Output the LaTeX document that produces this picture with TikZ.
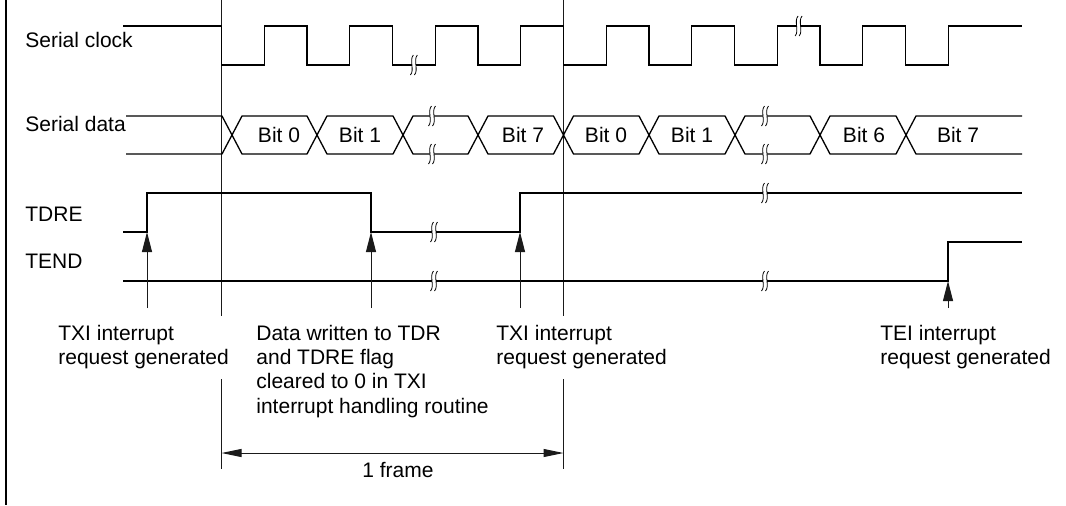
\documentclass[tikz,border=0pt]{standalone}
\usepackage{fontspec}
\setmainfont{Liberation Sans}
\usetikzlibrary{arrows.meta}
\definecolor{cline}{HTML}{1A1A1A}
\tikzset{
  sig/.style={line width=0.65pt,draw=black,line join=miter},
  lbl/.style={inner sep=0pt,font=\fontsize{10.5}{12.2}\selectfont},
  >=Triangle
}
\newcommand{\xcross}{232,317,403,478,563.5,649,735,820,906}

\begin{document}
\begin{tikzpicture}[x=0.5pt,y=-0.5pt,
    thinline/.style={line width=0.5pt,draw=cline},
    arr/.style={thinline,-{Triangle[length=10pt,width=5pt]}},
    note/.style={lbl,anchor=base west,align=left},
    brk/.pic={
      \fill[white] (-2,-3) rectangle (2,3);
      \draw[line width=0.4pt] (-0.5,-10) .. controls (-5,-5) and (1,5) .. (-3.5,10);
      \draw[line width=0.4pt] (3.5,-10) .. controls (-1,-5) and (5,5) .. (0.5,10);
    }]
  \useasboundingbox (0,0) rectangle (1066,505);
  \draw[line width=1.2pt] (6,0) -- (6,505);
  % frame marks
  \draw[thinline] (221.5,0) -- (221.5,316) (221.5,379) -- (221.5,469);
  \draw[thinline] (563.5,0) -- (563.5,316) (563.5,379) -- (563.5,469);
  % signal names
  \node[lbl,anchor=base west] (clk) at (25,47) {Serial clock};
  \node[lbl,anchor=base west] (dat) at (25,131) {Serial data};
  \node[lbl,anchor=base west] (tdre) at (25,221) {TDRE};
  \node[lbl,anchor=base west] (tend) at (25,268) {TEND};
  % serial clock
  \draw[sig] (123,26) -- (221.5,26) -- (221.5,65)
    \foreach \j in {0,...,7}{ -- ({264.25+85.5*\j},65) -- ({264.25+85.5*\j},26)
      -- ({307+85.5*\j},26) -- ({307+85.5*\j},65) }
    -- (948.25,65) -- (948.25,26) -- (1022,26);
  % serial data
  \draw[sig] (126,116) \foreach \c in \xcross{ -- ({\c-10},116) -- (\c,135) -- ({\c+10},116) } -- (1022,116);
  \draw[sig] (126,154) \foreach \c in \xcross{ -- ({\c-10},154) -- (\c,135) -- ({\c+10},154) } -- (1022,154);
  \foreach \x/\t [count=\i] in {279/Bit 0,360/Bit 1,523/Bit 7,606/Bit 0,692/Bit 1,864/Bit 6,958/Bit 7}
    \node[lbl] (bit\i) at (\x,135) {\t};
  % TDRE and TEND
  \draw[sig] (123,232) -- (147,232) coordinate (t1) -- (147,193) -- (371,193) -- (371,232) coordinate (t2)
    -- (520,232) coordinate (t3) -- (520,193) -- (1022,193);
  \draw[sig] (123,281) -- (948,281) coordinate (t4) -- (948,242) -- (1022,242);
  \foreach \x/\y in {413.9/65,798.6/26,432/116,432/154,765/116,765/154,434/232,434/281,765/193,765/281}
    \pic at (\x,\y) {brk};
  % interrupt requests
  \coordinate (s1) at (147,308);
  \coordinate (s2) at (371,308);
  \coordinate (s3) at (520,308);
  \coordinate (s4) at (948,308);
  \foreach \i in {1,...,4} \draw[arr] (s\i) -- (t\i);
  \node[note] (txa) at (58,364.4) {TXI interrupt\\request generated};
  \node[note] (wr) at (256,413.2) {Data written to TDR\\and TDRE flag\\cleared to 0 in TXI\\interrupt handling routine};
  \node[note] (txb) at (496,364.4) {TXI interrupt\\request generated};
  \node[note] (tei) at (880,364.4) {TEI interrupt\\request generated};
  % one frame
  \coordinate (f1) at (221.5,453);
  \coordinate (f2) at (563.5,453);
  \draw[thinline,{Triangle[length=10pt,width=4pt]}-{Triangle[length=10pt,width=4pt]}] (f1) -- (f2);
  \node[lbl] (frm) at (398,470) {1 frame};
\end{tikzpicture}
\end{document}
